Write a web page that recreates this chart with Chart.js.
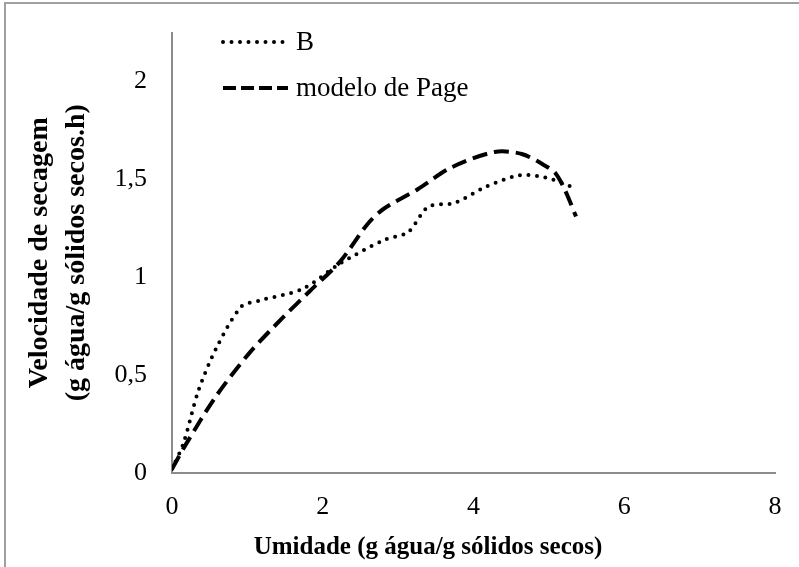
<!DOCTYPE html>
<html>
<head>
<meta charset="utf-8">
<script src="https://cdn.jsdelivr.net/npm/chart.js@4/dist/chart.umd.min.js"></script>
<style>
  body { margin: 0; background: #fff; }
  #wrap { position: relative; width: 799px; height: 567px; }
  #frame { position: absolute; left: 4px; top: 2px; right: 0; bottom: 0;
           border-left: 2px solid #a0a0a0; border-top: 2px solid #a0a0a0; pointer-events: none; }
</style>
</head>
<body>
<div id="wrap">
  <canvas id="secagemChart" width="799" height="567"></canvas>
  <div id="frame"></div>
</div>
<script>
// curva experimental B
const umidadeB = [0.0, 0.15, 0.35, 0.59, 0.92, 1.15, 1.73, 2.23, 2.81, 3.13, 3.40, 3.75, 4.15, 4.60, 4.95, 5.32];
const velocidadeB = [0.02, 0.15, 0.42, 0.64, 0.85, 0.88, 0.94, 1.07, 1.19, 1.23, 1.36, 1.38, 1.46, 1.52, 1.51, 1.46];

// modelo de Page
const umidadePage = [0.0, 0.19, 0.58, 1.02, 1.46, 1.83, 2.23, 2.59, 2.81, 3.26, 3.70, 4.28, 4.64, 4.95, 5.09, 5.22, 5.36];
const velocidadePage = [0.02, 0.15, 0.39, 0.61, 0.79, 0.93, 1.08, 1.27, 1.35, 1.45, 1.56, 1.64, 1.63, 1.57, 1.53, 1.44, 1.31];

const xTicks = [0, 2, 4, 6, 8];
const yTicks = [0, 0.5, 1, 1.5, 2];
const xTitle = "Umidade (g água/g sólidos secos)";

const serif = "'Liberation Serif', 'Times New Roman', serif";

function toPoints(xs, ys) {
  return xs.map((x, i) => ({ x: x, y: ys[i] }));
}

const dotDash = [0, 8.5];
const longDash = [15, 7];

// legenda e titulo do eixo x desenhados a mao (como no Excel, fora do centro)
const insideLegend = {
  id: "insideLegend",
  afterDraw(chart) {
    const ctx = chart.ctx;
    const items = [
      { label: "B", dash: dotDash, width: 4, cap: "round" },
      { label: "modelo de Page", dash: [13, 5], width: 4, cap: "butt" },
    ];
    ctx.save();
    ctx.font = "27px " + serif;
    ctx.fillStyle = "#000";
    ctx.textBaseline = "middle";
    items.forEach((it, i) => {
      const y = 42 + i * 46;
      ctx.beginPath();
      ctx.setLineDash(it.dash);
      ctx.lineCap = it.cap;
      ctx.lineWidth = it.width;
      ctx.strokeStyle = "#000";
      ctx.moveTo(223, y);
      ctx.lineTo(288, y);
      ctx.stroke();
      ctx.setLineDash([]);
      ctx.fillText(it.label, 296, y + 1);
    });

    ctx.font = "bold 25px " + serif;
    ctx.textAlign = "center";
    ctx.fillText(xTitle, 428, 548);
    ctx.restore();
  },
};

const ctx = document.getElementById("secagemChart").getContext("2d");

const config = {
  type: "scatter",
  data: {
    datasets: [
      {
        label: "B",
        data: toPoints(umidadeB, velocidadeB),
        showLine: true,
        borderColor: "#000",
        borderWidth: 4,
        borderDash: dotDash,
        borderCapStyle: "round",
        pointRadius: 0,
        tension: 0.3,
      },
      {
        label: "modelo de Page",
        data: toPoints(umidadePage, velocidadePage),
        showLine: true,
        borderColor: "#000",
        borderWidth: 4,
        borderDash: longDash,
        pointRadius: 0,
        tension: 0.3,
      },
    ],
  },
  options: {
    responsive: false,
    animation: false,
    layout: { padding: { left: 0, top: 29, right: 24, bottom: 0 } },
    plugins: {
      legend: { display: false },
      tooltip: { enabled: false },
    },
    scales: {
      x: {
        type: "linear",
        min: 0,
        max: 8,
        afterFit: (s) => { s.height = 94; },
        afterBuildTicks: (s) => { s.ticks = xTicks.map((v) => ({ value: v })); },
        grid: { display: false },
        border: { display: true, color: "#8c8c8c", width: 2 },
        ticks: {
          color: "#000",
          font: { family: serif, size: 26 },
          padding: 11,
          callback: (v) => String(v),
        },
        title: { display: false },
      },
      y: {
        type: "linear",
        min: 0,
        max: 2.25,
        afterFit: (s) => { s.width = 172; },
        afterBuildTicks: (s) => { s.ticks = yTicks.map((v) => ({ value: v })); },
        grid: { display: false },
        border: { display: true, color: "#8c8c8c", width: 2 },
        ticks: {
          color: "#000",
          font: { family: serif, size: 26 },
          padding: 17,
          callback: (v) => String(v).replace(".", ","),
        },
        title: {
          display: true,
          text: ["Velocidade de secagem", "(g água/g sólidos secos.h)"],
          color: "#000",
          font: { family: serif, size: 28, weight: "bold", lineHeight: 1.33 },
          padding: { top: 21 },
        },
      },
    },
  },
  plugins: [insideLegend],
};

const secagemChart = new Chart(ctx, config);
</script>
</body>
</html>
